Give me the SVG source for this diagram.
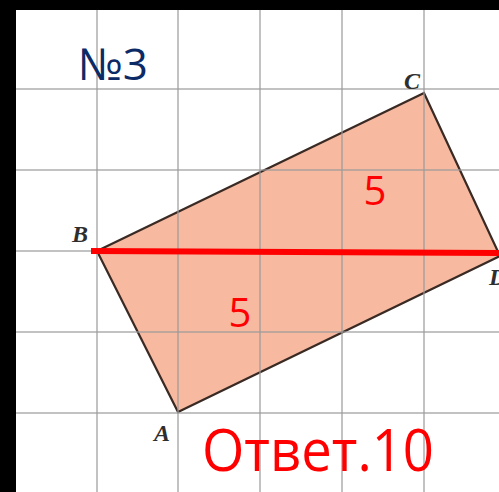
<svg xmlns="http://www.w3.org/2000/svg" width="499" height="492" viewBox="0 0 499 492">
  <style>
    .grid line { stroke: #9a9a9a; stroke-opacity: 0.6; stroke-width: 2; }
    .pt { font-family: "Liberation Serif", serif; font-style: italic; font-weight: bold; font-size: 24px; fill: #2e2e2e; }
    .num { font-family: "Open Sans", "Liberation Sans", sans-serif; font-size: 40px; fill: #ff0000; text-anchor: middle; }
  </style>
  <rect x="0" y="0" width="499" height="492" fill="#ffffff"/>
  <g id="figure">
    <polygon points="97,251 424,93 500,256 178,412" fill="#f7b9a0" stroke="#3a2a24" stroke-width="2.2" stroke-linejoin="miter"/>
  </g>
  <g class="grid" id="grid">
    <line x1="16" y1="89" x2="499" y2="89"/>
    <line x1="16" y1="170" x2="499" y2="170"/>
    <line x1="16" y1="251" x2="499" y2="251"/>
    <line x1="16" y1="332" x2="499" y2="332"/>
    <line x1="16" y1="413" x2="499" y2="413"/>
    <line x1="97" y1="10" x2="97" y2="492"/>
    <line x1="178" y1="10" x2="178" y2="492"/>
    <line x1="260" y1="10" x2="260" y2="492"/>
    <line x1="342" y1="10" x2="342" y2="492"/>
    <line x1="424" y1="10" x2="424" y2="492"/>
  </g>
  <rect x="0" y="0" width="16" height="492" fill="#000000"/>
  <rect x="0" y="0" width="499" height="10" fill="#000000"/>
  <g id="connectors">
    <line x1="91" y1="251" x2="499" y2="253" stroke="#ff0000" stroke-width="6"/>
  </g>
  <g id="label-B"><text class="pt" x="72" y="242">B</text></g>
  <g id="label-C"><text class="pt" x="404" y="89">C</text></g>
  <g id="label-A"><text class="pt" x="154" y="441">A</text></g>
  <g id="label-D"><text class="pt" x="489" y="285">D</text></g>
  <g id="len-top"><text class="num" x="375" y="205">5</text></g>
  <g id="len-bottom"><text class="num" x="240" y="327">5</text></g>
  <g id="title"><text x="78" y="80" font-family="Open Sans, Liberation Sans, sans-serif" font-size="44" fill="#0b2a66">№3</text></g>
  <g id="answer"><text x="202" y="471" font-family="Open Sans, Liberation Sans, sans-serif" font-size="58" fill="#ff0000" textLength="232" lengthAdjust="spacingAndGlyphs">Ответ.10</text></g>
</svg>
